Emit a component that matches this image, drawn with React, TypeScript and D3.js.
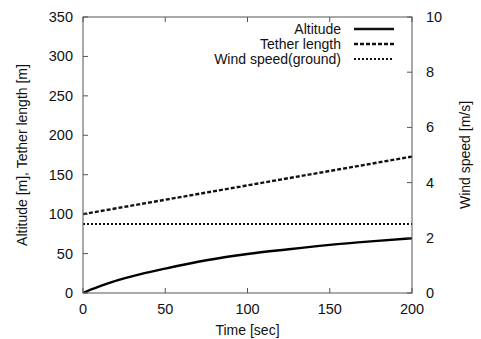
import React from "react";
import * as d3 from "d3";

const timeTicks = [0, 50, 100, 150, 200];
const leftTicks = [0, 50, 100, 150, 200, 250, 300, 350];
const rightTicks = [0, 2, 4, 6, 8, 10];

const altitudeT = [0, 5, 10, 17, 25, 35, 50, 75, 100, 125, 150, 175, 200];
const altitudeV = [0, 4.5, 8.5, 13.5, 18.5, 24, 31, 41.5, 49.5, 55.5, 61, 65.5, 69.5];
const tetherT = [0, 50, 100, 150, 200];
const tetherV = [100, 118.25, 136.5, 154.75, 173];
const windT = [0, 200];
const windV = [2.5, 2.5];

const legendLabels = ["Altitude", "Tether length", "Wind speed(ground)"];

export default function App() {
  const W = 481, H = 339;
  const L = 83, R = 412, T = 17, B = 293;
  const x = d3.scaleLinear().domain([0, 200]).range([L, R]);
  const yl = d3.scaleLinear().domain([0, 350]).range([B, T]);
  const yr = d3.scaleLinear().domain([0, 10]).range([B, T]);
  const lineL = d3.line<[number, number]>().x(d => x(d[0])).y(d => yl(d[1])).curve(d3.curveMonotoneX);
  const lineR = d3.line<[number, number]>().x(d => x(d[0])).y(d => yr(d[1]));
  const alt = altitudeT.map((t, i) => [t, altitudeV[i]] as [number, number]);
  const teth = tetherT.map((t, i) => [t, tetherV[i]] as [number, number]);
  const wind = windT.map((t, i) => [t, windV[i]] as [number, number]);
  const font = "'Liberation Sans', Arial, sans-serif";
  const axisColor = "#555";
  const fs = 14.5;
  const styles = [
    { dash: undefined, w: 2.4 },
    { dash: "4,2", w: 2.4 },
    { dash: "2,2", w: 2 },
  ];
  const legendY = [29, 44, 59];
  return (
    <svg width={W} height={H} style={{ position: "absolute", left: 0, top: 0, background: "#fff" }} fontFamily={font} fill="#111">
      <defs>
        <clipPath id="clip"><rect x={L} y={T} width={R - L} height={B - T} /></clipPath>
      </defs>
      <g clipPath="url(#clip)">
        <path d={lineL(alt) || ""} fill="none" stroke="#000" strokeWidth={styles[0].w} />
        <path d={lineL(teth) || ""} fill="none" stroke="#111" strokeWidth={styles[1].w} strokeDasharray={styles[1].dash} />
        <path d={lineR(wind) || ""} fill="none" stroke="#111" strokeWidth={styles[2].w} strokeDasharray={styles[2].dash} />
      </g>
      <rect x={L} y={T} width={R - L} height={B - T} fill="none" stroke={axisColor} strokeWidth={1} />
      {timeTicks.map(t => (
        <g key={"x" + t}>
          <line x1={x(t)} x2={x(t)} y1={B} y2={B - 5} stroke={axisColor} />
          <line x1={x(t)} x2={x(t)} y1={T} y2={T + 5} stroke={axisColor} />
          <text x={x(t)} y={314} textAnchor="middle" fontSize={fs}>{t}</text>
        </g>
      ))}
      {leftTicks.map(v => (
        <g key={"l" + v}>
          <line x1={L} x2={L + 5} y1={yl(v)} y2={yl(v)} stroke={axisColor} />
          <text x={73} y={yl(v) + 5} textAnchor="end" fontSize={fs}>{v}</text>
        </g>
      ))}
      {rightTicks.map(v => (
        <g key={"r" + v}>
          <line x1={R} x2={R - 5} y1={yr(v)} y2={yr(v)} stroke={axisColor} />
          <text x={426} y={yr(v) + 5} textAnchor="start" fontSize={fs}>{v}</text>
        </g>
      ))}
      <text x={(L + R) / 2} y={335} textAnchor="middle" fontSize={14}>Time [sec]</text>
      <text transform={`translate(27,${(T + B) / 2}) rotate(-90)`} textAnchor="middle" fontSize={14}>Altitude [m], Tether length [m]</text>
      <text transform={`translate(470,${(T + B) / 2}) rotate(-90)`} textAnchor="middle" fontSize={14}>Wind speed [m/s]</text>
      {legendLabels.map((lab, i) => (
        <g key={lab}>
          <text x={341} y={legendY[i] + 5} textAnchor="end" fontSize={14}>{lab}</text>
          <line x1={354} x2={394} y1={legendY[i]} y2={legendY[i]} stroke="#111" strokeWidth={styles[i].w} strokeDasharray={styles[i].dash} />
        </g>
      ))}
    </svg>
  );
}
